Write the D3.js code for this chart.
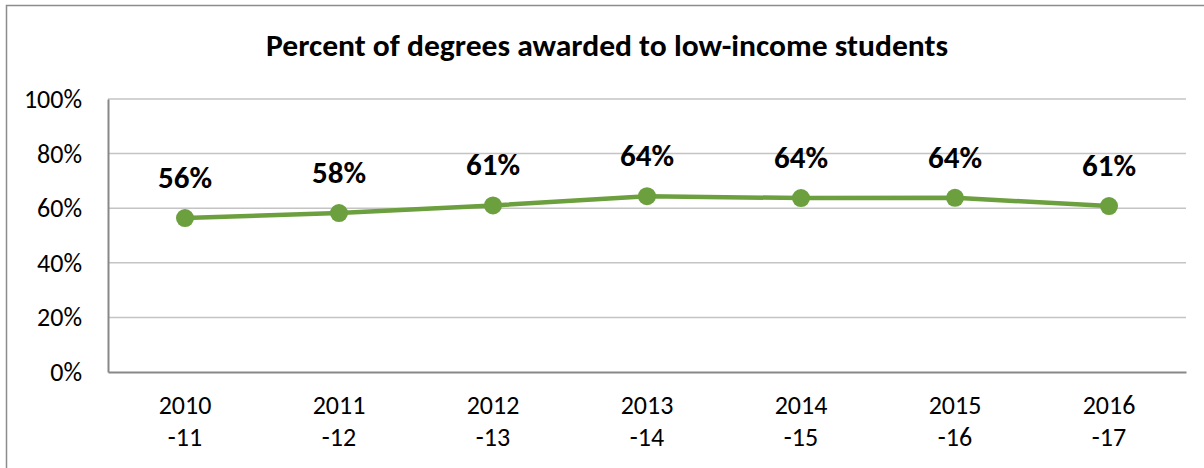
<!DOCTYPE html>
<html>
<head>
<meta charset="utf-8">
<script src="https://cdn.jsdelivr.net/npm/d3@7"></script>
<style>
  body { margin: 0; background: #fff; }
  svg text { font-family: Carlito, "Open Sans", "Liberation Sans", sans-serif; }
</style>
</head>
<body>
<svg width="1204" height="468"></svg>
<script>
const categories = ['2010-11', '2011-12', '2012-13', '2013-14', '2014-15', '2015-16', '2016-17']
const values = [0.564, 0.582, 0.610, 0.644, 0.637, 0.638, 0.608]
const dataLabels = ['56%', '58%', '61%', '64%', '64%', '64%', '61%']
const yTicks = [0, 0.2, 0.4, 0.6, 0.8, 1]

const svg = d3.select('svg')
const margin = {left: 108, right: 1186, top: 99, bottom: 372}
const green = '#6c9f3e'

// outer frame (right/bottom edges run past the picture)
svg.append('rect').attr('x', 6.5).attr('y', 5.5).attr('width', 1210).attr('height', 480)
  .attr('fill', 'none').attr('stroke', '#8c8c8c').attr('stroke-width', 1.5)

svg.append('text').attr('x', 607).attr('y', 56).attr('text-anchor', 'middle')
  .attr('font-size', 31).attr('font-weight', 'bold').attr('fill', '#000')
  .attr('textLength', 682).attr('lengthAdjust', 'spacingAndGlyphs')
  .text('Percent of degrees awarded to low-income students')

const x = d3.scaleBand().domain(categories).range([margin.left, margin.right])
const y = d3.scaleLinear().domain([0, 1]).range([margin.bottom, margin.top])

// gridlines
svg.append('g').selectAll('line').data(yTicks.slice(1)).enter().append('line')
  .attr('x1', margin.left).attr('x2', margin.right)
  .attr('y1', d => y(d)).attr('y2', d => y(d))
  .attr('stroke', '#c4c4c4').attr('stroke-width', 1.5)

// y axis
const yAxis = svg.append('g').attr('transform', `translate(${margin.left},0)`)
  .call(d3.axisLeft(y).tickValues(yTicks).tickFormat(d3.format('.0%')).tickSize(0).tickPadding(26))
yAxis.select('.domain').attr('stroke', '#888').attr('stroke-width', 2)
yAxis.selectAll('text').attr('font-size', 26).attr('fill', '#000').attr('dy', '0.33em')
  .style('font-family', 'Carlito, "Open Sans", "Liberation Sans", sans-serif')

// x axis
const xAxis = svg.append('g').attr('transform', `translate(0,${margin.bottom})`)
  .call(d3.axisBottom(x).tickSize(0).tickFormat(''))
xAxis.select('.domain').attr('stroke', '#888').attr('stroke-width', 2)
const xl = svg.append('g').selectAll('text').data(categories).enter().append('text')
  .attr('x', d => x(d) + x.bandwidth() / 2).attr('text-anchor', 'middle')
  .attr('font-size', 26).attr('fill', '#000')
xl.append('tspan').attr('x', d => x(d) + x.bandwidth() / 2).attr('y', 414).text(d => d.split('-')[0])
xl.append('tspan').attr('x', d => x(d) + x.bandwidth() / 2).attr('y', 446).text(d => '-' + d.split('-')[1])

// line + markers
const line = d3.line().x((d, i) => x(categories[i]) + x.bandwidth() / 2).y(d => y(d))
svg.append('path').datum(values).attr('d', line).attr('fill', 'none')
  .attr('stroke', green).attr('stroke-width', 4.5).attr('stroke-linejoin', 'round')
svg.append('g').selectAll('circle').data(values).enter().append('circle')
  .attr('cx', (d, i) => x(categories[i]) + x.bandwidth() / 2).attr('cy', d => y(d))
  .attr('r', 9).attr('fill', green)

svg.append('g').selectAll('text').data(values).enter().append('text')
  .attr('x', (d, i) => x(categories[i]) + x.bandwidth() / 2).attr('y', d => y(d) - 30)
  .attr('text-anchor', 'middle').attr('font-size', 31).attr('font-weight', 'bold').attr('fill', '#000')
  .text((d, i) => dataLabels[i])
</script>
</body>
</html>
